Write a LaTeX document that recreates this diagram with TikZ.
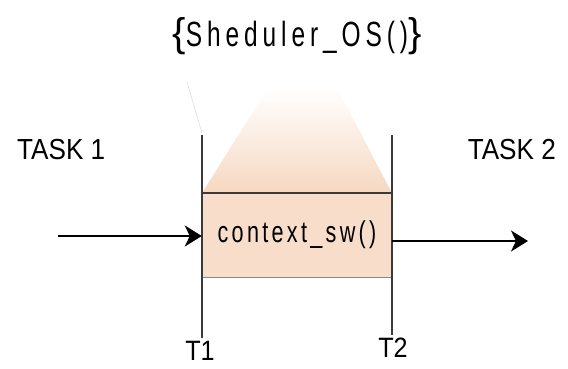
\documentclass[tikz,border=0pt]{standalone}
\usepackage{fontspec}
\setmainfont{Liberation Sans}
\newfontfamily\schedfont[FakeStretch=0.7,LetterSpace=14]{Liberation Sans}
\newfontfamily\ctxfont[FakeStretch=0.72,LetterSpace=11]{Liberation Sans}
\newfontfamily\taskfont[FakeStretch=0.9]{Liberation Sans}
\usetikzlibrary{arrows.meta}
\definecolor{peach}{HTML}{F7DDCA}
\definecolor{peachdark}{HTML}{F6D8C1}
\definecolor{linegray}{HTML}{3A3A3A}
\tikzset{
  tline/.style={draw=linegray, line width=1.4pt},
  flow/.style={draw=black, line width=2.2pt, -{Stealth[length=17pt,width=21pt,inset=5pt]}},
  tasklabel/.style={font=\taskfont\fontsize{29}{32}\selectfont, inner sep=0pt},
  tlabel/.style={font=\taskfont\fontsize{28}{30}\selectfont, inner sep=0pt, anchor=base},
}
\begin{document}
\begin{tikzpicture}[x=1pt,y=-1pt]
\useasboundingbox (0,0) rectangle (568,368);
\fill[white] (0,0) rectangle (568,368);
% faint edge
\draw[gray!25, line width=0.6pt] (187,82) -- (202,133);
% fading trapezoid
\shade[top color=white, bottom color=peachdark] (268,88) -- (337,88) -- (392,193) -- (202,193) -- cycle;
% box
\node[fill=peach, minimum width=190pt, minimum height=84pt, inner sep=0pt,
      font=\ctxfont\fontsize{30}{32}\selectfont] (box) at (297,235) {context\_sw()};
\draw[tline] (box.north west) -- (box.north east);
\draw[draw=linegray!60, line width=0.8pt] (box.south west) -- (box.south east);
% time lines
\coordinate (t1top) at (202,135);
\coordinate (t1bot) at (202,338);
\coordinate (t2top) at (392,135);
\coordinate (t2bot) at (392,335);
\draw[tline] (t1top) -- (t1bot);
\draw[tline] (t2top) -- (t2bot);
% labels
\node[tlabel] (T1) at (200,360) {T1};
\node[tlabel] (T2) at (393,357) {T2};
\node[tasklabel, anchor=west] (task1) at (17,150) {TASK 1};
\node[tasklabel, anchor=east] (task2) at (556,150) {TASK 2};
\node[inner sep=0pt] (sched) at (297,36)
  {{\fontsize{40}{44}\selectfont\{}{\schedfont\fontsize{35}{38}\selectfont Sheduler\_OS()}{\fontsize{40}{44}\selectfont\}}};
% arrows
\coordinate (in) at (58,236);
\coordinate (out) at (528,241);
\draw[flow] (in) -- (in -| box.west);
\draw[flow] (out -| box.east) -- (out);
\end{tikzpicture}
\end{document}
